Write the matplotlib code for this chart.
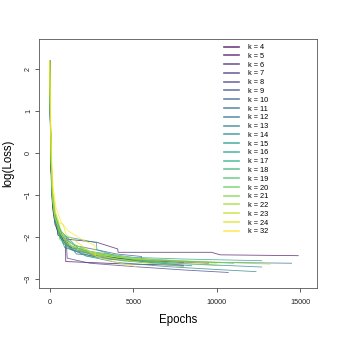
import numpy as np
import matplotlib
matplotlib.use("Agg")
import matplotlib.pyplot as plt

plt.rcParams["font.family"] = ["Liberation Sans", "DejaVu Sans"]

# number of clusters for each run
ks = [4, 5, 6, 7, 8, 9, 10, 11, 12, 13, 14, 15, 16, 17, 18, 19, 20, 21, 22, 23, 24, 32]

# epochs / log(loss), one list per run
epochs = [
    [0, 40, 90, 170, 320, 600, 950, 960, 2200, 4000, 6000, 8000],
    [0, 40, 90, 160, 300, 550, 800, 1100, 2800, 4070, 4090, 9680, 10200, 14870],
    [0, 40, 90, 160, 300, 500, 700, 1200, 1900, 2500, 4000, 6000, 8000],
    [0, 50, 100, 180, 350, 700, 1000, 1300, 2500, 4000, 6000, 9500],
    [0, 40, 90, 160, 300, 600, 1000, 1050, 2400, 5000, 8000, 10680],
    [0, 40, 90, 170, 320, 500, 650, 1200, 1600, 2200, 3500, 6000],
    [0, 40, 90, 160, 300, 600, 1500, 2800, 4000, 5500, 5520, 7000],
    [0, 40, 90, 160, 300, 450, 600, 1200, 2500, 4500, 7000, 10000, 14470],
    [0, 40, 90, 170, 300, 650, 900, 1300, 2500, 4500, 8500],
    [0, 40, 90, 160, 300, 600, 1100, 2200, 4000, 7000, 10000, 12340],
    [0, 40, 90, 160, 320, 600, 800, 1200, 2500, 5000, 8000, 12680],
    [0, 40, 90, 160, 300, 600, 1000, 2800, 2820, 4000, 5500],
    [0, 40, 90, 170, 300, 650, 1300, 1800, 2600, 5000, 8000, 12680],
    [0, 40, 90, 160, 300, 600, 750, 1200, 2500, 5000, 8000, 11000],
    [0, 40, 90, 160, 300, 600, 1000, 1300, 2200, 4500, 7500],
    [0, 40, 90, 170, 320, 650, 1300, 2500, 4500, 6500],
    [0, 40, 90, 160, 300, 450, 600, 1200, 2500, 5000, 8000],
    [0, 40, 90, 160, 300, 600, 1300, 2600, 5000, 7500, 10280],
    [0, 40, 90, 170, 320, 650, 1000, 1300, 2500, 5000, 9000, 13180],
    [0, 40, 90, 160, 300, 600, 900, 1200, 2500, 5000, 7500, 9980],
    [0, 40, 100, 180, 350, 550, 800, 1000, 1400, 2600, 4000, 6000],
    [0, 50, 110, 200, 380, 700, 1100, 1900, 2700, 2720, 4000, 5190],
]
losses = [
    [2.2, 0.6, -0.6, -1.3, -1.7, -1.95, -2.13, -2.58, -2.6, -2.63, -2.65, -2.67],
    [2.2, 0.8, -0.4, -1.1, -1.6, -1.75, -2.0, -2.05, -2.12, -2.28, -2.36, -2.36, -2.42, -2.44],
    [2.2, 0.9, -0.3, -1.0, -1.5, -1.95, -2.0, -2.25, -2.28, -2.42, -2.5, -2.56, -2.6],
    [2.2, 0.7, -0.5, -1.2, -1.65, -2.05, -2.08, -2.3, -2.4, -2.5, -2.56, -2.62],
    [2.2, 0.7, -0.4, -1.1, -1.55, -1.9, -2.2, -2.5, -2.62, -2.7, -2.78, -2.84],
    [2.2, 0.8, -0.3, -1.0, -1.5, -1.95, -1.98, -2.2, -2.4, -2.42, -2.52, -2.6],
    [2.2, 0.8, -0.4, -1.1, -1.6, -1.95, -2.2, -2.3, -2.4, -2.46, -2.55, -2.6],
    [2.2, 0.9, -0.3, -1.0, -1.5, -1.7, -2.0, -2.25, -2.4, -2.52, -2.56, -2.6, -2.62],
    [2.2, 0.8, -0.4, -1.1, -1.55, -2.0, -2.25, -2.3, -2.45, -2.55, -2.68],
    [2.2, 0.8, -0.3, -1.0, -1.5, -1.9, -2.25, -2.45, -2.6, -2.7, -2.77, -2.82],
    [2.2, 0.9, -0.3, -1.0, -1.55, -1.85, -2.15, -2.2, -2.4, -2.55, -2.63, -2.71],
    [2.2, 0.8, -0.4, -1.1, -1.55, -1.95, -1.99, -2.13, -2.3, -2.45, -2.6],
    [2.2, 0.9, -0.2, -0.95, -1.45, -1.85, -2.1, -2.3, -2.35, -2.48, -2.52, -2.56],
    [2.2, 0.8, -0.3, -1.0, -1.5, -1.8, -2.1, -2.2, -2.38, -2.5, -2.57, -2.62],
    [2.2, 0.8, -0.4, -1.1, -1.6, -1.95, -2.25, -2.28, -2.45, -2.57, -2.64],
    [2.2, 0.9, -0.2, -0.95, -1.45, -1.85, -2.15, -2.35, -2.5, -2.6],
    [2.2, 0.8, -0.3, -1.05, -1.5, -1.7, -2.05, -2.25, -2.42, -2.58, -2.7],
    [2.2, 0.9, -0.2, -1.0, -1.5, -1.9, -2.2, -2.38, -2.52, -2.62, -2.68],
    [2.2, 1.0, -0.1, -0.9, -1.4, -1.8, -2.1, -2.15, -2.35, -2.5, -2.58, -2.64],
    [2.2, 0.9, -0.2, -1.0, -1.5, -1.85, -2.1, -2.2, -2.4, -2.52, -2.58, -2.62],
    [2.2, 1.0, -0.1, -0.85, -1.4, -1.65, -1.7, -1.95, -2.05, -2.4, -2.52, -2.62],
    [2.2, 1.1, 0.0, -0.8, -1.3, -1.65, -1.85, -2.05, -2.2, -2.45, -2.6, -2.7],
]

colors = plt.cm.viridis(np.linspace(0, 1, len(ks)))
colors[:, 3] = 0.75

fig = plt.figure(figsize=(3.38, 3.38), dpi=100)
ax = fig.add_axes([39 / 338, 50 / 338, 278 / 338, 249 / 338])

for k, ep, lo, c in zip(ks, epochs, losses, colors):
    ax.plot(ep, lo, color=c, lw=0.6, label="k = %d" % k)

ax.set_xlim(-640, 15990)
ax.set_ylim(-3.21, 2.72)
ax.set_xticks([0, 5000, 10000, 15000])
ax.set_yticks([-3, -2, -1, 0, 1, 2])
ax.tick_params(labelsize=5.2, length=3, width=0.6, pad=5, colors="#444444", labelcolor="#222222")
ax.tick_params(axis="y", pad=2)
for lab in ax.get_yticklabels():
    lab.set_rotation(90)
    lab.set_va("center")
for s in ax.spines.values():
    s.set_linewidth(0.6)
    s.set_color("#555555")

ax.set_xlabel("Epochs", fontsize=8.3, labelpad=6)
ax.set_ylabel("log(Loss)", fontsize=8.3, labelpad=8)

leg = ax.legend(frameon=False, fontsize=5.3, loc="upper left",
                bbox_to_anchor=(224 / 338, 1 - 44 / 338), bbox_transform=fig.transFigure,
                borderpad=0, borderaxespad=0, handlelength=2.1, handletextpad=1.1,
                labelspacing=0.22)
for h in leg.get_lines():
    h.set_linewidth(1.2)

fig.savefig("out.png", dpi=100)
